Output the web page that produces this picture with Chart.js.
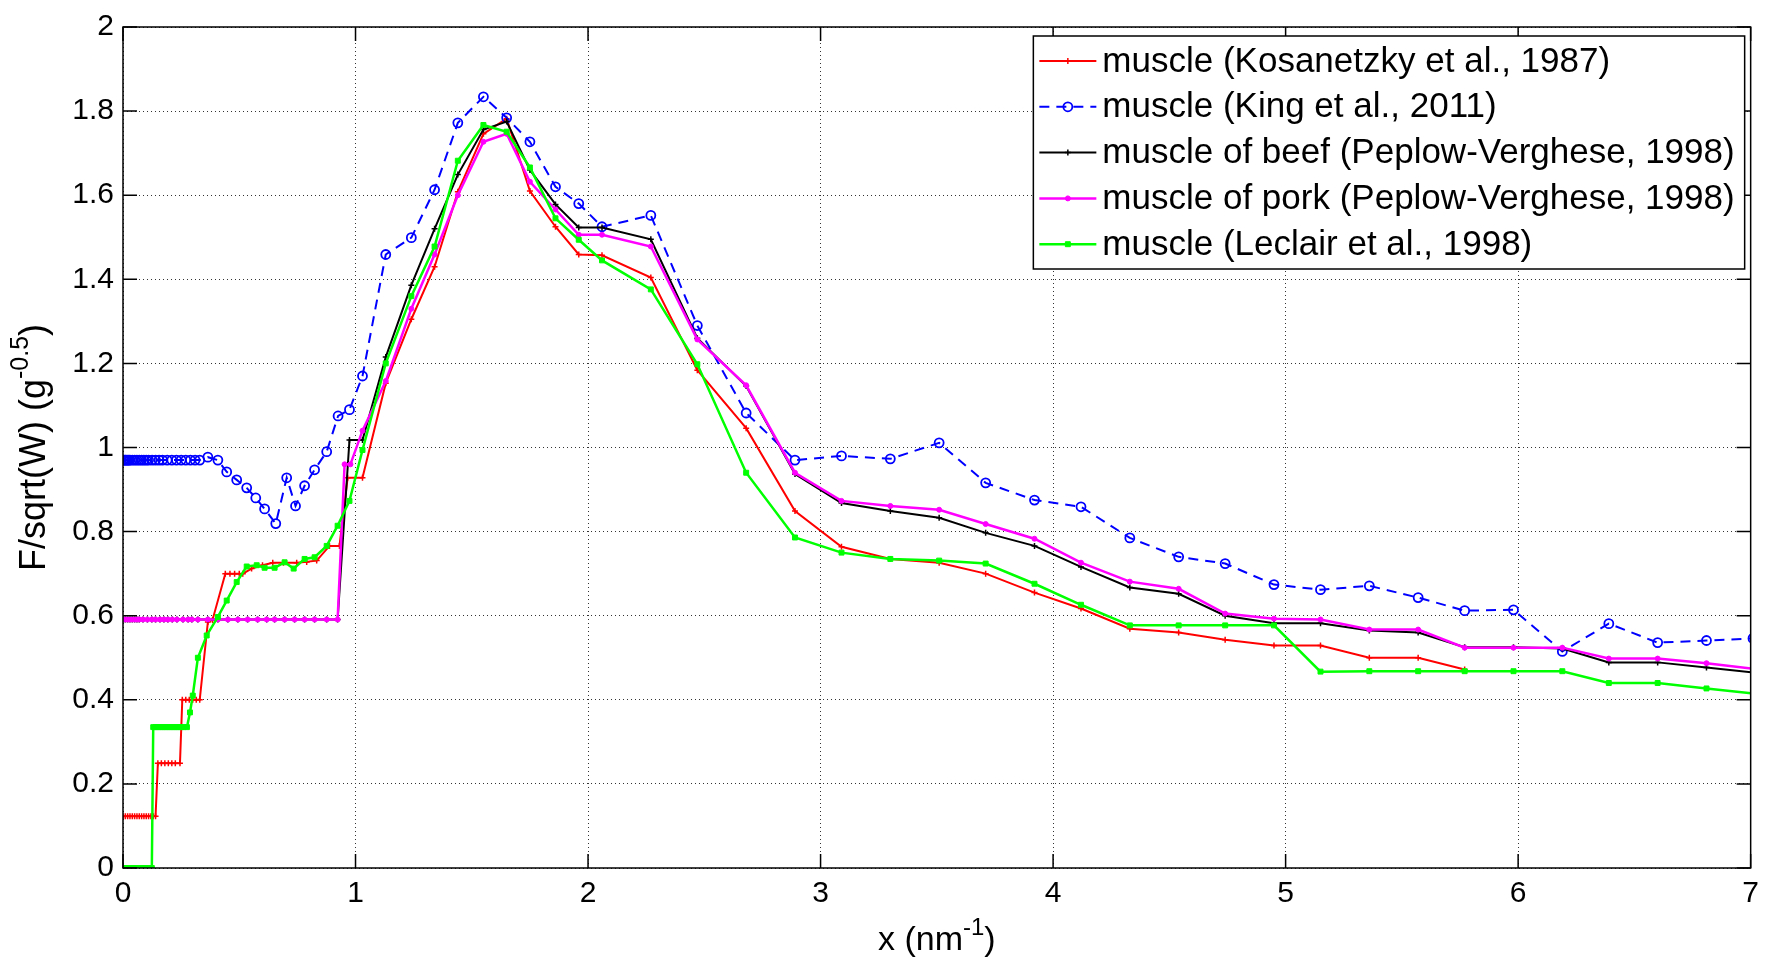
<!DOCTYPE html>
<html>
<head>
<meta charset="utf-8">
<title>Molecular form factor of muscle</title>
<script src="https://cdn.jsdelivr.net/npm/chart.js@4.4.1/dist/chart.umd.min.js"></script>
<style>
  html, body { margin: 0; padding: 0; background: #fff; }
  canvas { display: block; }
</style>
</head>
<body>
<canvas id="formFactorChart" width="1767" height="961"></canvas>
<script>
// momentum transfer grid shared by every data set from x = 1.03 upward
const qGrid = [1.03, 1.13, 1.24, 1.34, 1.44, 1.55, 1.65, 1.75, 1.86, 1.96,
               2.06, 2.27, 2.47, 2.68, 2.89, 3.09, 3.30, 3.51, 3.71, 3.92,
               4.12, 4.33, 4.54, 4.74, 4.95, 5.15, 5.36, 5.57, 5.77, 5.98,
               6.19, 6.39, 6.60, 6.81, 7.01];

// Kosanetzky et al., 1987
const kosanetzkyLowX = [0, 0.01, 0.02, 0.03, 0.04, 0.05, 0.06, 0.07, 0.08, 0.09, 0.1, 0.11, 0.12, 0.13, 0.14,
                        0.15, 0.165, 0.18, 0.195, 0.21, 0.225, 0.245,
                        0.255, 0.27, 0.285, 0.3, 0.315, 0.33,
                        0.365, 0.385, 0.44, 0.46, 0.48, 0.5, 0.515,
                        0.553, 0.6, 0.644, 0.69, 0.747, 0.79, 0.833, 0.888, 0.931, 0.966];
const kosanetzkyLowY = [0.123, 0.123, 0.123, 0.123, 0.123, 0.123, 0.123, 0.123, 0.123, 0.123, 0.123, 0.123, 0.123, 0.123, 0.123,
                        0.249, 0.249, 0.249, 0.249, 0.249, 0.249, 0.249,
                        0.40, 0.40, 0.40, 0.40, 0.40, 0.40,
                        0.585, 0.59, 0.70, 0.70, 0.70, 0.70, 0.70,
                        0.712, 0.72, 0.726, 0.726, 0.726, 0.728, 0.731, 0.766, 0.766, 0.928];
const kosanetzkyHighY = [0.928, 1.153, 1.305, 1.43, 1.608, 1.746, 1.782, 1.61, 1.525, 1.459,
                         1.457, 1.404, 1.184, 1.046, 0.849, 0.764, 0.735, 0.726, 0.70, 0.655,
                         0.617, 0.569, 0.56, 0.543, 0.529, 0.529, 0.50, 0.50, 0.472];

// King et al., 2011
const kingLowX = [0, 0.005, 0.01, 0.015, 0.02, 0.025, 0.03, 0.04, 0.05, 0.06, 0.07, 0.08, 0.09, 0.1,
                  0.11, 0.125, 0.14, 0.155, 0.17, 0.19, 0.21, 0.23, 0.25, 0.27, 0.29, 0.31, 0.33,
                  0.365, 0.408, 0.446, 0.489, 0.532, 0.571, 0.609, 0.657, 0.704, 0.742, 0.781,
                  0.824, 0.876, 0.925, 0.974];
const kingLowY = [0.97, 0.97, 0.97, 0.97, 0.97, 0.97, 0.97, 0.97, 0.97, 0.97, 0.97, 0.97, 0.97, 0.97,
                  0.97, 0.97, 0.97, 0.97, 0.97, 0.97, 0.97, 0.97, 0.97, 0.97, 0.97, 0.97, 0.97,
                  0.977, 0.97, 0.942, 0.923, 0.904, 0.88, 0.854, 0.819, 0.928, 0.861, 0.909,
                  0.947, 0.99, 1.075, 1.09];
const kingHighY = [1.17, 1.459, 1.499, 1.613, 1.772, 1.834, 1.784, 1.727, 1.62, 1.58,
                   1.525, 1.552, 1.29, 1.082, 0.970, 0.98, 0.973, 1.011, 0.916, 0.875,
                   0.859, 0.785, 0.740, 0.724, 0.674, 0.662, 0.671, 0.643, 0.612, 0.614,
                   0.515, 0.581, 0.536, 0.541, 0.546];

// Peplow-Verghese, 1998 (beef and pork share the low-x sampling)
const peplowLowX = [0, 0.01, 0.02, 0.03, 0.04, 0.05, 0.06, 0.07, 0.086, 0.105, 0.124, 0.14,
                    0.159, 0.176, 0.193, 0.212, 0.232, 0.258, 0.28, 0.296, 0.322, 0.365,
                    0.408, 0.451, 0.494, 0.536, 0.579, 0.618, 0.652, 0.695, 0.738, 0.781,
                    0.824, 0.876, 0.923];
const beefLowY = [0.591, 0.591, 0.591, 0.591, 0.591, 0.591, 0.591, 0.591, 0.591, 0.591, 0.591, 0.591,
                  0.591, 0.591, 0.591, 0.591, 0.591, 0.591, 0.591, 0.591, 0.591, 0.591,
                  0.591, 0.591, 0.591, 0.591, 0.591, 0.591, 0.591, 0.591, 0.591, 0.591,
                  0.591, 0.591, 0.591];
const beefJumpX = [0.974];
const beefJumpY = [1.018];
const beefHighY = [1.018, 1.215, 1.386, 1.52, 1.649, 1.756, 1.775, 1.66, 1.578, 1.523,
                   1.523, 1.495, 1.26, 1.146, 0.937, 0.868, 0.849, 0.833, 0.797, 0.766,
                   0.716, 0.667, 0.652, 0.600, 0.582, 0.582, 0.565, 0.56, 0.525, 0.525,
                   0.522, 0.489, 0.489, 0.477, 0.465];
const porkLowY = [0.591, 0.591, 0.591, 0.591, 0.591, 0.591, 0.591, 0.591, 0.591, 0.591, 0.591, 0.591,
                  0.591, 0.591, 0.591, 0.591, 0.591, 0.591, 0.591, 0.591, 0.591, 0.591,
                  0.591, 0.591, 0.591, 0.591, 0.591, 0.591, 0.591, 0.591, 0.591, 0.591,
                  0.591, 0.591, 0.591];
const porkJumpX = [0.953, 0.978];
const porkJumpY = [0.96, 0.96];
const porkHighY = [1.04, 1.158, 1.33, 1.459, 1.60, 1.727, 1.746, 1.632, 1.566, 1.506,
                   1.506, 1.478, 1.257, 1.148, 0.94, 0.873, 0.861, 0.852, 0.818, 0.783,
                   0.726, 0.681, 0.664, 0.605, 0.593, 0.591, 0.567, 0.567, 0.524, 0.524,
                   0.524, 0.498, 0.498, 0.487, 0.474];

// Leclair et al., 1998
const leclairLowX = [0, 0.01, 0.02, 0.03, 0.04, 0.05, 0.06, 0.07, 0.08, 0.09, 0.1, 0.11, 0.124,
                     0.13, 0.14, 0.15, 0.16, 0.17, 0.18, 0.19, 0.2, 0.21, 0.22, 0.23, 0.24, 0.25, 0.26, 0.275,
                     0.288, 0.30, 0.322, 0.36, 0.408, 0.446, 0.489, 0.532, 0.575, 0.609, 0.652, 0.695,
                     0.734, 0.781, 0.824, 0.876, 0.923, 0.974];
const leclairLowY = [0, 0, 0, 0, 0, 0, 0, 0, 0, 0, 0, 0, 0,
                     0.335, 0.335, 0.335, 0.335, 0.335, 0.335, 0.335, 0.335, 0.335, 0.335, 0.335, 0.335, 0.335, 0.335, 0.335,
                     0.37, 0.41, 0.50, 0.553, 0.597, 0.636, 0.68, 0.717, 0.72, 0.714, 0.714, 0.727,
                     0.712, 0.735, 0.739, 0.766, 0.814, 0.873];
const leclairHighY = [0.994, 1.20, 1.36, 1.478, 1.682, 1.767, 1.751, 1.666, 1.545, 1.494,
                      1.445, 1.376, 1.198, 0.94, 0.786, 0.75, 0.735, 0.731, 0.724, 0.676,
                      0.626, 0.577, 0.577, 0.577, 0.577, 0.467, 0.468, 0.468, 0.468, 0.468,
                      0.468, 0.44, 0.44, 0.427, 0.415];

const seriesLabels = [
    'muscle (Kosanetzky et al., 1987)',
    'muscle (King et al., 2011)',
    'muscle of beef (Peplow-Verghese, 1998)',
    'muscle of pork (Peplow-Verghese, 1998)',
    'muscle (Leclair et al., 1998)'
];

const yTicks = [0, 0.2, 0.4, 0.6, 0.8, 1, 1.2, 1.4, 1.6, 1.8, 2];
const xTicks = [0, 1, 2, 3, 4, 5, 6, 7];

const FONT = "'Liberation Sans', Arial, Helvetica, sans-serif";

/**
 * Join (x, y) lists into point objects; highY runs along qGrid
 */
function toPoints(xs, ys, highY) {
    const pts = xs.map((x, i) => ({ x: x, y: ys[i] }));
    highY.forEach((y, i) => pts.push({ x: qGrid[i], y: y }));
    return pts;
}

/**
 * Axes box and inward tick marks on all four sides
 */
const axesBox = {
    id: 'axesBox',
    afterDatasetsDraw(chart) {
        const { ctx, chartArea: a, scales } = chart;
        const len = 14;
        ctx.save();
        ctx.strokeStyle = '#000';
        ctx.lineWidth = 1.5;
        ctx.strokeRect(a.left, a.top, a.right - a.left, a.bottom - a.top);
        ctx.beginPath();
        xTicks.forEach(v => {
            const px = scales.x.getPixelForValue(v);
            ctx.moveTo(px, a.bottom); ctx.lineTo(px, a.bottom - len);
            ctx.moveTo(px, a.top); ctx.lineTo(px, a.top + len);
        });
        yTicks.forEach(v => {
            const py = scales.y.getPixelForValue(v);
            ctx.moveTo(a.left, py); ctx.lineTo(a.left + len, py);
            ctx.moveTo(a.right, py); ctx.lineTo(a.right - len, py);
        });
        ctx.stroke();
        ctx.restore();
    }
};

/**
 * Axis titles with a raised exponent
 */
function drawExpLabel(ctx, parts, cx, cy, vertical, size) {
    const supSize = Math.round(size * 0.7);
    ctx.save();
    ctx.translate(cx, cy);
    if (vertical) ctx.rotate(-Math.PI / 2);
    ctx.fillStyle = '#000';
    ctx.textBaseline = 'alphabetic';
    ctx.textAlign = 'left';
    const widths = parts.map(p => {
        ctx.font = (p.sup ? supSize : size) + 'px ' + FONT;
        return ctx.measureText(p.text).width;
    });
    let x = -widths.reduce((s, w) => s + w, 0) / 2;
    parts.forEach((p, i) => {
        ctx.font = (p.sup ? supSize : size) + 'px ' + FONT;
        ctx.fillText(p.text, x, p.sup ? -size * 0.1 : size * 0.36);
        x += widths[i];
    });
    ctx.restore();
}

const axisTitles = {
    id: 'axisTitles',
    afterDraw(chart) {
        const { ctx, chartArea: a } = chart;
        drawExpLabel(ctx, [{ text: 'x (nm' }, { text: '-1', sup: true }, { text: ')' }],
            (a.left + a.right) / 2, a.bottom + 70, false, 34);
        drawExpLabel(ctx, [{ text: 'F/sqrt(W) (g' }, { text: '-0.5', sup: true }, { text: ')' }],
            32, (a.top + a.bottom) / 2, true, 36);
    }
};

/**
 * Boxed legend in the upper right corner of the plot
 */
const insetLegend = {
    id: 'insetLegend',
    afterDraw(chart) {
        const { ctx, chartArea: a } = chart;
        const datasets = chart.data.datasets;
        ctx.save();
        ctx.font = '35px ' + FONT;
        const textW = Math.max(...datasets.map(d => ctx.measureText(d.label).width));
        const rowH = 45.8;
        const width = 69 + textW + 10;
        const height = 233;
        const left = a.right - 6 - width;
        const top = a.top + 9;

        ctx.fillStyle = '#fff';
        ctx.fillRect(left, top, width, height);
        ctx.strokeStyle = '#000';
        ctx.lineWidth = 1.5;
        ctx.strokeRect(left, top, width, height);

        datasets.forEach((d, i) => {
            const y = top + 25 + i * rowH;
            const x0 = left + 6, x1 = left + 63;
            ctx.save();
            ctx.strokeStyle = d.borderColor;
            ctx.lineWidth = d.borderWidth;
            ctx.setLineDash(d.borderDash || []);
            ctx.beginPath();
            ctx.moveTo(x0, y);
            ctx.lineTo(x1, y);
            ctx.stroke();
            ctx.setLineDash([]);
            ctx.fillStyle = d.pointBackgroundColor;
            ctx.strokeStyle = d.pointBorderColor;
            ctx.lineWidth = d.pointBorderWidth;
            Chart.helpers.drawPoint(ctx, {
                pointStyle: d.pointStyle,
                radius: d.pointRadius,
                borderWidth: d.pointBorderWidth,
                rotation: 0
            }, (x0 + x1) / 2, y);
            ctx.restore();

            ctx.fillStyle = '#000';
            ctx.textBaseline = 'middle';
            ctx.textAlign = 'left';
            ctx.fillText(d.label, left + 69, y + 1);
        });
        ctx.restore();
    }
};

function initChart() {
    const el = document.getElementById('formFactorChart');
    new Chart(el, {
        type: 'scatter',
        data: {
            datasets: [
                {
                    label: seriesLabels[0],
                    data: toPoints(kosanetzkyLowX, kosanetzkyLowY, kosanetzkyHighY),
                    showLine: true,
                    borderColor: '#ff0000',
                    borderWidth: 2,
                    pointStyle: 'cross',
                    pointRadius: 3,
                    pointBorderWidth: 1.5,
                    pointBorderColor: '#ff0000',
                    pointBackgroundColor: '#ff0000',
                    order: 5
                },
                {
                    label: seriesLabels[1],
                    data: toPoints(kingLowX, kingLowY, kingHighY),
                    showLine: true,
                    borderColor: '#0000ff',
                    borderWidth: 2,
                    borderDash: [10, 7],
                    pointStyle: 'circle',
                    pointRadius: 4.5,
                    pointBorderWidth: 1.8,
                    pointBorderColor: '#0000ff',
                    pointBackgroundColor: 'rgba(0,0,0,0)',
                    order: 4
                },
                {
                    label: seriesLabels[2],
                    data: toPoints(peplowLowX.concat(beefJumpX), beefLowY.concat(beefJumpY), beefHighY),
                    showLine: true,
                    borderColor: '#000000',
                    borderWidth: 2,
                    pointStyle: 'cross',
                    pointRadius: 3,
                    pointBorderWidth: 1.5,
                    pointBorderColor: '#000000',
                    pointBackgroundColor: '#000000',
                    order: 3
                },
                {
                    label: seriesLabels[3],
                    data: toPoints(peplowLowX.concat(porkJumpX), porkLowY.concat(porkJumpY), porkHighY),
                    showLine: true,
                    borderColor: '#ff00ff',
                    borderWidth: 2.5,
                    pointStyle: 'circle',
                    pointRadius: 2.5,
                    pointBorderWidth: 1,
                    pointBorderColor: '#ff00ff',
                    pointBackgroundColor: '#ff00ff',
                    order: 2
                },
                {
                    label: seriesLabels[4],
                    data: toPoints(leclairLowX, leclairLowY, leclairHighY),
                    showLine: true,
                    borderColor: '#00ff00',
                    borderWidth: 2.5,
                    pointStyle: 'rect',
                    pointRadius: 3.5,
                    pointBorderWidth: 1,
                    pointBorderColor: '#00ff00',
                    pointBackgroundColor: '#00ff00',
                    order: 1
                }
            ]
        },
        options: {
            responsive: false,
            animation: false,
            devicePixelRatio: 1,
            layout: { padding: { top: 25, right: 11, left: 0, bottom: 0 } },
            plugins: {
                legend: { display: false },
                tooltip: { enabled: false }
            },
            elements: { line: { tension: 0 } },
            scales: {
                x: {
                    type: 'linear',
                    min: 0,
                    max: 7,
                    afterBuildTicks: scale => { scale.ticks = xTicks.map(v => ({ value: v })); },
                    afterFit: scale => { scale.height = 93; },
                    grid: { color: '#333', lineWidth: 1, drawTicks: false },
                    border: { display: false, dash: [1, 3] },
                    ticks: {
                        color: '#000',
                        padding: 8,
                        font: { family: FONT, size: 30 },
                        callback: value => String(value)
                    }
                },
                y: {
                    type: 'linear',
                    min: 0,
                    max: 2,
                    afterBuildTicks: scale => { scale.ticks = yTicks.map(v => ({ value: v })); },
                    afterFit: scale => { scale.width = 123; },
                    grid: { color: '#333', lineWidth: 1, drawTicks: false },
                    border: { display: false, dash: [1, 3] },
                    ticks: {
                        color: '#000',
                        padding: 9,
                        font: { family: FONT, size: 30 },
                        callback: value => String(Math.round(value * 10) / 10)
                    }
                }
            }
        },
        plugins: [axesBox, axisTitles, insetLegend]
    });
}

document.addEventListener('DOMContentLoaded', initChart);
</script>
</body>
</html>
